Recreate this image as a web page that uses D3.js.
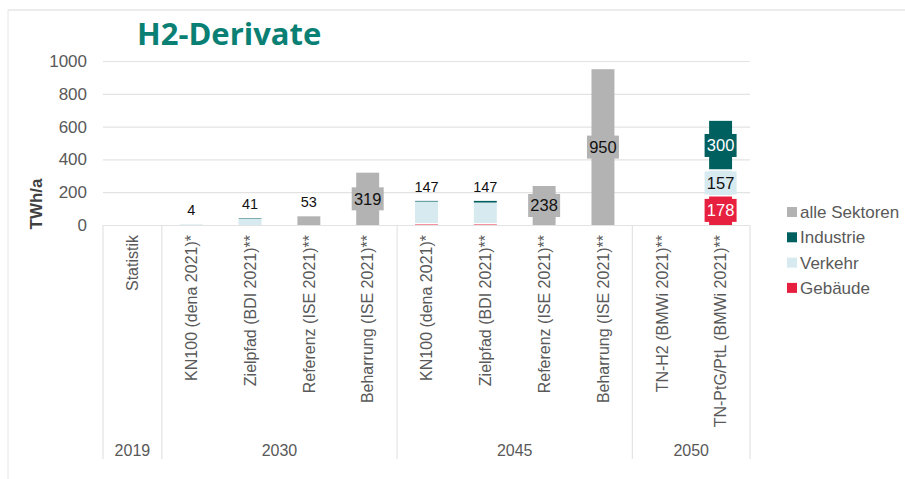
<!DOCTYPE html>
<html><head><meta charset="utf-8">
<script src="https://cdn.jsdelivr.net/npm/d3@7"></script>
<style>
body{margin:0;background:#fff;}
svg{display:block;font-family:"Liberation Sans",Arial,sans-serif;}
</style></head>
<body>
<svg id="chart" width="905" height="479"></svg>
<script>
// ---- data ----
const categories = ["Statistik","KN100 (dena 2021)*","Zielpfad (BDI 2021)**","Referenz (ISE 2021)**","Beharrung (ISE 2021)**",
  "KN100 (dena 2021)*","Zielpfad (BDI 2021)**","Referenz (ISE 2021)**","Beharrung (ISE 2021)**",
  "TN-H2 (BMWi 2021)**","TN-PtG/PtL (BMWi 2021)**"];
const years = ["2019","2030","2045","2050"];
const yearSpans = [1,4,4,2];
const seriesNames = ["Gebäude","Verkehr","Industrie","alle Sektoren"];
const gebaeude     = [0,0,0,0,0,8,7,0,0,0,178];
const verkehr      = [0,4,38,0,0,135,130,0,0,0,157];
const industrie    = [0,0,3,0,0,4,10,0,0,0,300];
const alleSektoren = [0,0,0,53,319,0,0,238,950,0,0];
const totalLabels  = ["","4","41","53","319","147","147","238","950","",""];
const yTicks = [0,200,400,600,800,1000];

const colors = {"Gebäude":"#e8203f","Verkehr":"#d7eaf0","Industrie":"#005f5f","alle Sektoren":"#b3b3b3"};
const labelText = {"Gebäude":"#ffffff","Verkehr":"#111","Industrie":"#ffffff","alle Sektoren":"#111"};

const svg = d3.select("#chart");
const x = d3.scaleBand().domain(d3.range(categories.length)).range([103,750]).padding(0);
const y = d3.scaleLinear().domain([0,1000]).range([225,61]);

// frame
svg.append("line").attr("x1",8).attr("x2",8).attr("y1",10).attr("y2",479).attr("stroke","#e6e6e6");
svg.append("line").attr("x1",8).attr("x2",905).attr("y1",10).attr("y2",10).attr("stroke","#e6e6e6").attr("stroke-width",1.5);

// title
svg.append("text").attr("x",137).attr("y",45).text("H2-Derivate")
  .attr("font-family","'Open Sans',sans-serif").attr("font-weight","bold").attr("font-size",31).attr("fill","#0a8074");

// grid + y axis
const yAxis = d3.axisLeft(y).tickValues(yTicks).tickFormat(d3.format("d")).tickSize(-(750-103)).tickPadding(16);
const gy = svg.append("g").attr("transform","translate(103,0)").call(yAxis);
gy.select(".domain").remove();
gy.selectAll(".tick line").attr("stroke","#e3e3e3").attr("stroke-width",1.2);
gy.selectAll(".tick text").attr("font-size",17).attr("fill","#595959").attr("font-family","'Liberation Sans',Arial,sans-serif");

svg.append("text").attr("transform","translate(42,204) rotate(-90)").attr("text-anchor","middle")
  .attr("font-size",17).attr("font-weight","bold").attr("fill","#404040").text("TWh/a");

// stacked data
const rows = categories.map((c,i)=>({i, "Gebäude":gebaeude[i], "Verkehr":verkehr[i], "Industrie":industrie[i], "alle Sektoren":alleSektoren[i]}));
const stack = d3.stack().keys(seriesNames)(rows);
const bw = x.bandwidth()*0.39;

stack.forEach(layer=>{
  const key = layer.key;
  svg.append("g").selectAll("rect").data(layer.filter(d=>d[1]-d[0]>0)).join("rect")
    .attr("x",d=>x(d.data.i)+x.bandwidth()/2-bw/2)
    .attr("width",bw)
    .attr("y",d=>y(d[1]))
    .attr("height",d=>y(d[0])-y(d[1]))
    .attr("fill",colors[key]);
});

// separators between large stacked segments
stack.forEach(layer=>{
  svg.append("g").selectAll("line").data(layer.filter(d=>d[1]-d[0]>100 && d[0]>0)).join("line")
    .attr("x1",d=>x(d.data.i)+x.bandwidth()/2-bw/2-5).attr("x2",d=>x(d.data.i)+x.bandwidth()/2+bw/2+5)
    .attr("y1",d=>y(d[0])).attr("y2",d=>y(d[0])).attr("stroke","#fff").attr("stroke-width",1.5);
});

// boxed labels for large segments
stack.forEach(layer=>{
  const key = layer.key;
  const big = layer.filter(d=>d[1]-d[0]>=150);
  const g = svg.append("g").selectAll("g").data(big).join("g")
    .attr("transform",d=>`translate(${x(d.data.i)+x.bandwidth()/2},${(y(d[0])+y(d[1]))/2})`);
  g.append("rect").attr("x",-16).attr("y",-11.5).attr("width",32).attr("height",23).attr("fill",colors[key]);
  g.append("text").attr("text-anchor","middle").attr("dy","0.36em").attr("font-size",16.5)
    .attr("fill",labelText[key]).text(d=>key==="alle Sektoren"?totalLabels[d.data.i]:String(d[1]-d[0]));
});

// top labels for small bars
const totals = rows.map(r=>r["Gebäude"]+r["Verkehr"]+r["Industrie"]+r["alle Sektoren"]);
svg.append("g").selectAll("text").data(rows.filter(r=>totals[r.i]>0 && totals[r.i]<200)).join("text")
  .attr("x",r=>x(r.i)+x.bandwidth()/2).attr("y",r=>y(totals[r.i])-9)
  .attr("text-anchor","middle").attr("font-size",14.5).attr("fill","#111").text(r=>totalLabels[r.i]);

// category table
let boundaries=[0]; yearSpans.reduce((a,s)=>{boundaries.push(a+s);return a+s;},0);
const xr = b=>b<categories.length?x(b):x(categories.length-1)+x.bandwidth();
svg.append("g").selectAll("line").data(boundaries).join("line")
  .attr("x1",xr).attr("x2",xr)
  .attr("y1",225).attr("y2",459).attr("stroke","#e3e3e3").attr("stroke-width",1.2);
svg.append("g").selectAll("text").data(years).join("text")
  .attr("x",(d,k)=>(xr(boundaries[k])+xr(boundaries[k+1]))/2).attr("y",456)
  .attr("text-anchor","middle").attr("font-size",16).attr("fill","#595959").text(d=>d);

svg.append("g").selectAll("text").data(categories).join("text")
  .attr("transform",(d,i)=>`translate(${x(i)+x.bandwidth()/2},235) rotate(-90)`)
  .attr("text-anchor","end").attr("dy","0.36em").attr("font-size",16).attr("fill","#595959").text(d=>d);

// legend
const legendOrder = ["alle Sektoren","Industrie","Verkehr","Gebäude"];
const lg = svg.append("g").selectAll("g").data(legendOrder).join("g")
  .attr("transform",(d,k)=>`translate(787,${212+k*25.3})`);
lg.append("rect").attr("x",0).attr("y",-5).attr("width",10).attr("height",10).attr("fill",d=>colors[d]);
lg.append("text").attr("x",13).attr("dy","0.36em").attr("font-size",17).attr("fill","#595959").text(d=>d);
</script>
</body></html>
